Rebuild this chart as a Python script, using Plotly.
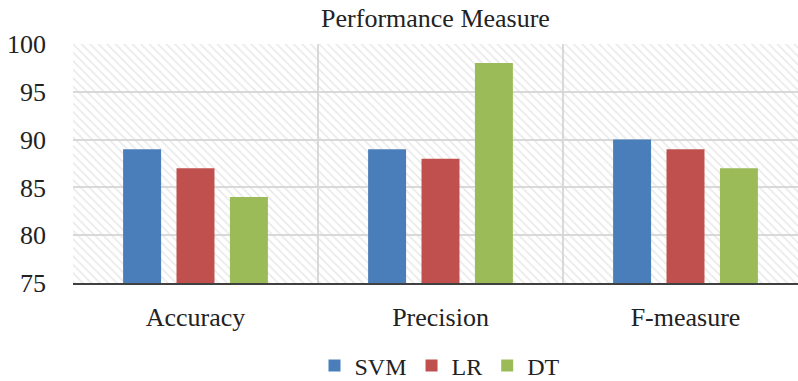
import plotly.graph_objects as go

categories = ["Accuracy", "Precision", "F-measure"]
series_names = ["SVM", "LR", "DT"]
svm = [89, 89, 90]
lr = [87, 88, 89]
dt = [84, 98, 87]
colors = ["#4A7EBB", "#C0504D", "#9BBB59"]
y_ticks = [75, 80, 85, 90, 95, 100]

SERIF = "Times New Roman"

fig = go.Figure()

# hatched plot background (one patterned full-width band per category)
fig.add_trace(go.Bar(
    x=categories, y=[max(y_ticks)] * len(categories),
    width=1.0, offset=-0.5,
    marker=dict(color="rgba(0,0,0,0)", line=dict(width=0),
                pattern=dict(shape="\\", fgcolor="#d6d6d6", bgcolor="rgba(0,0,0,0)",
                             size=6, solidity=0.3, fillmode="overlay")),
    showlegend=False, hoverinfo="skip"))

bar_w = 0.155
step = 0.218
for i, (name, vals) in enumerate(zip(series_names, [svm, lr, dt])):
    fig.add_trace(go.Bar(
        x=categories, y=vals, name=name,
        width=bar_w, offset=(i - 1) * step - bar_w / 2,
        marker=dict(color=colors[i], line=dict(width=0)),
    ))

fig.update_layout(
    width=798, height=381,
    barmode="overlay",
    paper_bgcolor="white", plot_bgcolor="white",
    margin=dict(l=73, r=0, t=44, b=98, autoexpand=False),
    font=dict(family=SERIF, color="#222222", size=24),
    title=dict(text="Performance Measure", x=0.5, xref="paper", xanchor="center",
               y=1 - 18 / 381, yref="container", yanchor="middle", automargin=False,
               font=dict(family=SERIF, size=26, color="#222222")),
    legend=dict(orientation="h", x=(440 - 73) / 725, xanchor="center",
                y=-(366 - 283) / 239, yanchor="middle",
                font=dict(family=SERIF, size=24, color="#222222"),
                itemwidth=30, tracegroupgap=0, traceorder="normal"),
    showlegend=True,
)
fig.update_xaxes(
    type="category", range=[-0.5, 2.5 - 10 / 245], automargin=False,
    tickson="boundaries", showgrid=True, gridcolor="#d9d9d9", gridwidth=1.5,
    showline=True, linecolor="#404040", linewidth=1.5,
    ticks="", tickfont=dict(family=SERIF, size=26, color="#222222"), ticklabelstandoff=10,
)
fig.update_yaxes(
    range=[75, 100], tickvals=y_ticks, showgrid=True, gridcolor="#d9d9d9", gridwidth=1.5,
    zeroline=False, showline=False, ticks="", automargin=False,
    tickfont=dict(family=SERIF, size=26, color="#222222"), ticklabelstandoff=26,
)

fig.write_html("out.html", config={"displayModeBar": False},
               post_script="document.body.style.margin='0';document.body.style.overflow='hidden';")
